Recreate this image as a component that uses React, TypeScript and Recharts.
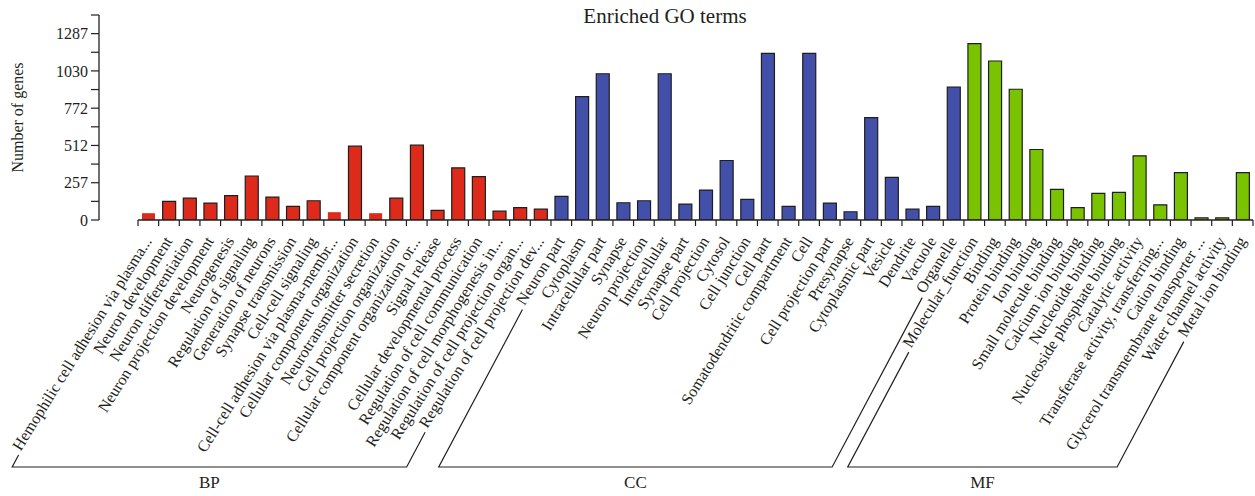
import React from "react";
import { BarChart, Bar, XAxis, YAxis, Cell } from "recharts";

const bpTerms = [
  "Hemophilic cell adhesion via plasma...",
  "Neuron development",
  "Neuron differentiation",
  "Neuron projection development",
  "Neurogenesis",
  "Regulation of signaling",
  "Generation of neurons",
  "Synapse transmission",
  "Cell-cell signaling",
  "Cell-cell adhesion via plasma-membr...",
  "Cellular component organization",
  "Neurotransmitter secretion",
  "Cell projection organization",
  "Cellular component organization or...",
  "Signal release",
  "Cellular developmental process",
  "Regulation of cell communication",
  "Regulation of cell morphogenesis in...",
  "Regulation of cell projection organ...",
  "Regulation of cell projection dev...",
];
const bpCounts = [47, 128, 151, 117, 168, 304, 158, 94, 133, 54, 510, 47, 151, 517, 66, 360, 300, 61, 85, 75];

const ccTerms = [
  "Neuron part",
  "Cytoplasm",
  "Intracellular part",
  "Synapse",
  "Neuron projection",
  "Intracellular",
  "Synapse part",
  "Cell projection",
  "Cytosol",
  "Cell junction",
  "Cell part",
  "Somatodendritic compartment",
  "Cell",
  "Cell projection part",
  "Presynapse",
  "Cytoplasmic part",
  "Vesicle",
  "Dendrite",
  "Vacuole",
  "Organelle",
];
const ccCounts = [163, 852, 1010, 119, 133, 1010, 110, 207, 411, 142, 1151, 94, 1151, 117, 57, 707, 295, 75, 94, 917];

const mfTerms = [
  "Molecular_function",
  "Binding",
  "Protein binding",
  "Ion binding",
  "Small molecule binding",
  "Calcium ion binding",
  "Nucleotide binding",
  "Nucleoside phosphate binding",
  "Catalytic activity",
  "Transferase activity, transferring...",
  "Cation binding",
  "Glycerol transmembrane transporter ...",
  "Water channel activity",
  "Metal ion binding",
];
const mfCounts = [1218, 1098, 903, 487, 212, 85, 184, 191, 443, 105, 327, 15, 15, 327];

const groupNames = ["BP", "CC", "MF"];
const groupColors = ["#DD2A1B", "#4350AA", "#7AC300"];

const yTicks = [0, 128.7, 257.4, 386.1, 514.8, 643.5, 772.2, 900.9, 1029.6, 1158.3, 1287, 1415.7];
const yTickLabels = ["0", "", "257", "", "512", "", "772", "", "1030", "", "1287", ""];

// bars drawn without the dark outline in the original
const plainBars = new Set([
  "Hemophilic cell adhesion via plasma...",
  "Cell-cell adhesion via plasma-membr...",
  "Neurotransmitter secretion",
]);

const rows = [
  ...bpTerms.map((t, i) => ({ term: t, count: bpCounts[i], group: 0 })),
  ...ccTerms.map((t, i) => ({ term: t, count: ccCounts[i], group: 1 })),
  ...mfTerms.map((t, i) => ({ term: t, count: mfCounts[i], group: 2 })),
];

const FONT = '"Liberation Serif", "Times New Roman", serif';
const INK = "#231F20";
const LABEL_SIZE = 16;
const ANGLE = 58; // label rotation
const BRACKET_ANGLE = 62;
const BASE_Y = 467;
const DX = 4;
const DY = 21;

let ctx: CanvasRenderingContext2D | null = null;
function textWidth(s: string) {
  if (!ctx) ctx = document.createElement("canvas").getContext("2d");
  if (!ctx) return s.length * 7;
  ctx.font = `${LABEL_SIZE}px ${FONT}`;
  return ctx.measureText(s).width;
}

const xs: number[] = [];

function CategoryTick(props: any) {
  const { x, y, payload, index } = props;
  xs[index] = x;
  const ax = x + DX;
  const ay = y + DY;
  const label = (
    <text
      x={ax}
      y={ay}
      textAnchor="end"
      transform={`rotate(-${ANGLE}, ${ax}, ${ay})`}
      fontFamily={FONT}
      fontSize={LABEL_SIZE}
      fill={INK}
    >
      {payload.value}
    </text>
  );
  if (index !== rows.length - 1) return label;

  // last tick: draw axis line, boundary ticks and group brackets
  const bw = xs[1] - xs[0];
  const left = xs[0] - bw / 2;
  const right = xs[index] + bw / 2;
  const rad = (ANGLE * Math.PI) / 180;
  const brad = (BRACKET_ANGLE * Math.PI) / 180;

  const startOf = (i: number) => {
    const w = textWidth(rows[i].term) + 4;
    const sx = xs[i] + DX - w * Math.cos(rad);
    const sy = y + DY + w * Math.sin(rad);
    return { sx, sy, bx: sx - (BASE_Y - sy) / Math.tan(brad) };
  };

  const brackets = groupNames.map((name, g) => {
    const first = rows.findIndex((r) => r.group === g);
    let last = first;
    rows.forEach((r, i) => {
      if (r.group === g) last = i;
    });
    const a = startOf(first);
    const b = startOf(last);
    return (
      <g key={name}>
        <path
          d={`M${a.sx},${a.sy} L${a.bx},${BASE_Y} L${b.bx},${BASE_Y} L${b.sx},${b.sy}`}
          fill="none"
          stroke={INK}
          strokeWidth={1.2}
        />
        <text
          x={(a.bx + b.bx) / 2}
          y={BASE_Y + 21}
          textAnchor="middle"
          fontFamily={FONT}
          fontSize={17}
          fill={INK}
        >
          {name}
        </text>
      </g>
    );
  });

  return (
    <g>
      <line x1={left} y1={y} x2={right} y2={y} stroke={INK} strokeWidth={1.3} />
      {xs.map((cx, i) => (
        <line key={i} x1={cx - bw / 2} y1={y} x2={cx - bw / 2} y2={y + 6} stroke={INK} strokeWidth={1.2} />
      ))}
      <line x1={right} y1={y} x2={right} y2={y + 6} stroke={INK} strokeWidth={1.2} />
      {label}
      {brackets}
    </g>
  );
}

function YLabel(props: any) {
  const vb = props.viewBox || { x: 0, y: 15, height: 205 };
  const cx = vb.x + 17;
  const cy = vb.y + vb.height / 2;
  return (
    <text
      x={cx}
      y={cy}
      transform={`rotate(-90, ${cx}, ${cy})`}
      textAnchor="middle"
      dominantBaseline="central"
      fontFamily={FONT}
      fontSize={16}
      fill={INK}
    >
      Number of genes
    </text>
  );
}

export default function App() {
  return (
    <div style={{ position: "absolute", left: 0, top: 0, width: 1255, height: 496, background: "#fff" }}>
      <div
        style={{
          position: "absolute",
          top: 4,
          left: 665,
          transform: "translateX(-50%)",
          fontFamily: FONT,
          fontSize: 21,
          lineHeight: "24px",
          color: INK,
          whiteSpace: "nowrap",
        }}
      >
        Enriched GO terms
      </div>
      <BarChart width={1255} height={496} data={rows} margin={{ top: 15, right: 2, left: 0, bottom: 0 }}>
        <XAxis
          dataKey="term"
          interval={0}
          height={276}
          axisLine={false}
          tickLine={false}
          tickSize={0}
          tickMargin={0}
          padding={{ left: 39, right: 0 }}
          tick={(p: any) => <CategoryTick {...p} />}
        />
        <YAxis
          width={99}
          domain={[0, 1415.7]}
          ticks={yTicks}
          interval={0}
          allowDataOverflow
          tickSize={8}
          tickMargin={3}
          tickFormatter={(v: number) => yTickLabels[yTicks.indexOf(v)] ?? ""}
          axisLine={{ stroke: INK, strokeWidth: 1.3 }}
          tickLine={{ stroke: INK, strokeWidth: 1.2 }}
          tick={{ fontFamily: FONT, fontSize: 16, fill: INK }}
          label={(p: any) => <YLabel {...p} />}
        />
        <Bar dataKey="count" barSize={13} isAnimationActive={false}>
          {rows.map((r) => (
            <Cell
              key={r.term}
              fill={groupColors[r.group]}
              stroke={plainBars.has(r.term) ? "none" : "#1E1E1E"}
              strokeWidth={1.2}
            />
          ))}
        </Bar>
      </BarChart>
    </div>
  );
}
